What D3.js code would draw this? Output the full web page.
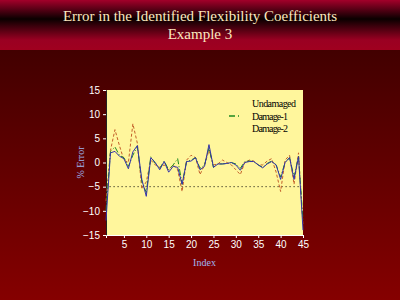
<!DOCTYPE html>
<html lang="en">
<head>
<meta charset="UTF-8" />
<title>Error in the Identified Flexibility Coefficients</title>
<script src="https://cdn.jsdelivr.net/npm/d3@7"></script>
</head>
<body style="padding: 0; margin: 0; background-color: #000;">
<script>
// data
const indexValues = [1, 2, 3, 4, 5, 6, 7, 8, 9, 10, 11, 12, 13, 14, 15, 16, 17, 18, 19, 20, 21, 22, 23, 24, 25, 26, 27, 28, 29, 30, 31, 32, 33, 34, 35, 36, 37, 38, 39, 40, 41, 42, 43, 44, 45];
const undamaged = [-12, 2.0, 2.3, 1.3, 0.8, -1.3, 2.2, 3.5, -3.5, -7, 1.0, 0, -1.5, 0.2, -2, -0.8, -1, -4.5, 0.2, 0.3, 1, -1.5, -0.8, 3.7, -1, -0.3, -0.3, -0.2, 0, -0.5, -1.6, 0, 0.2, 0.2, -0.5, -1.1, -0.3, 0.2, -0.5, -3.5, 0, 1, -3.5, 1.2, -14];
const damage1 = [-10, 2.3, 3.2, 1.5, 1.0, -0.8, 1.5, 3.3, -4, -6.2, 1.2, -0.2, -1.2, 0.3, -1.5, -0.5, 0.8, -4.5, 0.2, 0.5, 1, -1.2, -0.5, 3, -1, -0.3, -0.3, -0.2, 0, -0.3, -1.2, 0.2, 0.3, 0.2, -0.5, -1, -0.2, 0.3, -0.5, -3, 0, 1, -3, 1.3, -12];
const damage2 = [-8, 2.5, 6.8, 3.5, 0.5, 0, 8, 4, -5.5, -4, 0.5, -0.5, -1, -0.5, -1.5, -0.5, -1.5, -6, 0.5, 1.5, 1, -2.5, -0.5, 2.5, -0.5, -0.3, 0.5, 0, -0.5, -1.5, -2.5, 0, 0.5, 0.3, -0.5, -0.5, 0.3, 0.8, -2, -6, 0.5, 1.5, -4.5, 2, -13];
const threshold = -5;
const xTicks = [5, 10, 15, 20, 25, 30, 35, 40, 45];
const yTicks = [-15, -10, -5, 0, 5, 10, 15];
const seriesNames = ['Undamaged', 'Damage-1', 'Damage-2'];

const width = 400;
const height = 300;
const plot = { left: 106, right: 303, top: 90, bottom: 235 };

const svg = d3.select('body').append('svg')
    .attr('width', width)
    .attr('height', height);

const defs = svg.append('defs');
// header band: red - black - red
const hg = defs.append('linearGradient').attr('id', 'head').attr('x1', 0).attr('y1', 0).attr('x2', 0).attr('y2', 1);
hg.append('stop').attr('offset', '0%').attr('stop-color', '#a3002a');
hg.append('stop').attr('offset', '38%').attr('stop-color', '#0a0000');
hg.append('stop').attr('offset', '80%').attr('stop-color', '#9a0022');
hg.append('stop').attr('offset', '100%').attr('stop-color', '#a0001f');
// body: dark maroon to red
const bg = defs.append('linearGradient').attr('id', 'body').attr('x1', 0).attr('y1', 0).attr('x2', 0).attr('y2', 1);
bg.append('stop').attr('offset', '0%').attr('stop-color', '#420000');
bg.append('stop').attr('offset', '100%').attr('stop-color', '#850000');

svg.append('rect').attr('width', width).attr('height', 50).attr('fill', 'url(#head)');
svg.append('rect').attr('y', 50).attr('width', width).attr('height', 250).attr('fill', 'url(#body)');

// title
const title = svg.append('text')
    .attr('text-anchor', 'middle')
    .attr('font-family', 'Liberation Serif')
    .attr('font-size', 15)
    .attr('fill', '#fbe8bf');
title.append('tspan').attr('x', 200).attr('y', 21).text('Error in the Identified Flexibility Coefficients');
title.append('tspan').attr('x', 200).attr('y', 39).text('Example 3');

const x = d3.scaleLinear().domain([1, 45]).range([plot.left, plot.right]);
const y = d3.scaleLinear().domain([-15, 15]).range([plot.bottom, plot.top]);

svg.append('rect')
    .attr('x', plot.left).attr('y', plot.top)
    .attr('width', plot.right - plot.left).attr('height', plot.bottom - plot.top)
    .attr('fill', '#fff69c');

// axes
const yAxis = svg.append('g')
    .attr('transform', `translate(${plot.left},0)`)
    .call(d3.axisLeft(y).tickValues(yTicks).tickSize(3).tickPadding(3));
yAxis.select('.domain').attr('stroke', '#222');
yAxis.selectAll('.tick line').attr('stroke', '#fff');
yAxis.selectAll('text').attr('fill', '#fff').attr('font-family', 'Liberation Sans').attr('font-size', 10);

const xAxis = svg.append('g')
    .attr('transform', `translate(0,${plot.bottom})`)
    .call(d3.axisBottom(x).tickValues(xTicks).tickSize(3).tickPadding(3));
xAxis.select('.domain').attr('stroke', '#fff');
xAxis.selectAll('.tick line').attr('stroke', '#fff');
xAxis.selectAll('text').attr('fill', '#fff').attr('font-family', 'Liberation Sans').attr('font-size', 10);

// axis titles
svg.append('text')
    .attr('transform', `translate(84,${(plot.top + plot.bottom) / 2}) rotate(-90)`)
    .attr('text-anchor', 'middle')
    .attr('font-family', 'Liberation Serif')
    .attr('font-size', 10)
    .attr('fill', '#9fb6f0')
    .text('% Error');
svg.append('text')
    .attr('x', (plot.left + plot.right) / 2)
    .attr('y', 266)
    .attr('text-anchor', 'middle')
    .attr('font-family', 'Liberation Serif')
    .attr('font-size', 10)
    .attr('fill', '#9fb6f0')
    .text('Index');

// -5 dotted line
svg.append('line')
    .attr('x1', x(1.8)).attr('x2', x(44.5))
    .attr('y1', y(threshold)).attr('y2', y(threshold))
    .attr('stroke', '#000')
    .attr('stroke-width', 1)
    .attr('stroke-dasharray', '1,3');

const line = d3.line().x((d, i) => x(indexValues[i])).y(d => y(d));

svg.append('path').datum(damage2)
    .attr('d', line).attr('fill', 'none')
    .attr('stroke', '#c4602a').attr('stroke-width', 1).attr('stroke-dasharray', '3,2');
svg.append('path').datum(damage1)
    .attr('d', line).attr('fill', 'none')
    .attr('stroke', '#1f8a1f').attr('stroke-width', 1).attr('stroke-dasharray', '6,2,1,2');
svg.append('path').datum(undamaged)
    .attr('d', line).attr('fill', 'none')
    .attr('stroke', '#3434aa').attr('stroke-width', 1);

// legend
const legend = svg.append('g').attr('font-family', 'Liberation Serif').attr('font-size', 10).attr('fill', '#000');
legend.selectAll('text').data(seriesNames).join('text')
    .attr('x', 252)
    .attr('y', (d, i) => 107 + i * 12.5)
    .attr('textLength', (d, i) => i === 0 ? 44 : 36)
    .text(d => d);
legend.append('line')
    .attr('x1', 229).attr('x2', 241)
    .attr('y1', 116).attr('y2', 116)
    .attr('stroke', '#1f8a1f').attr('stroke-width', 1.3).attr('stroke-dasharray', '6,3,1,3');
</script>
</body>
</html>
